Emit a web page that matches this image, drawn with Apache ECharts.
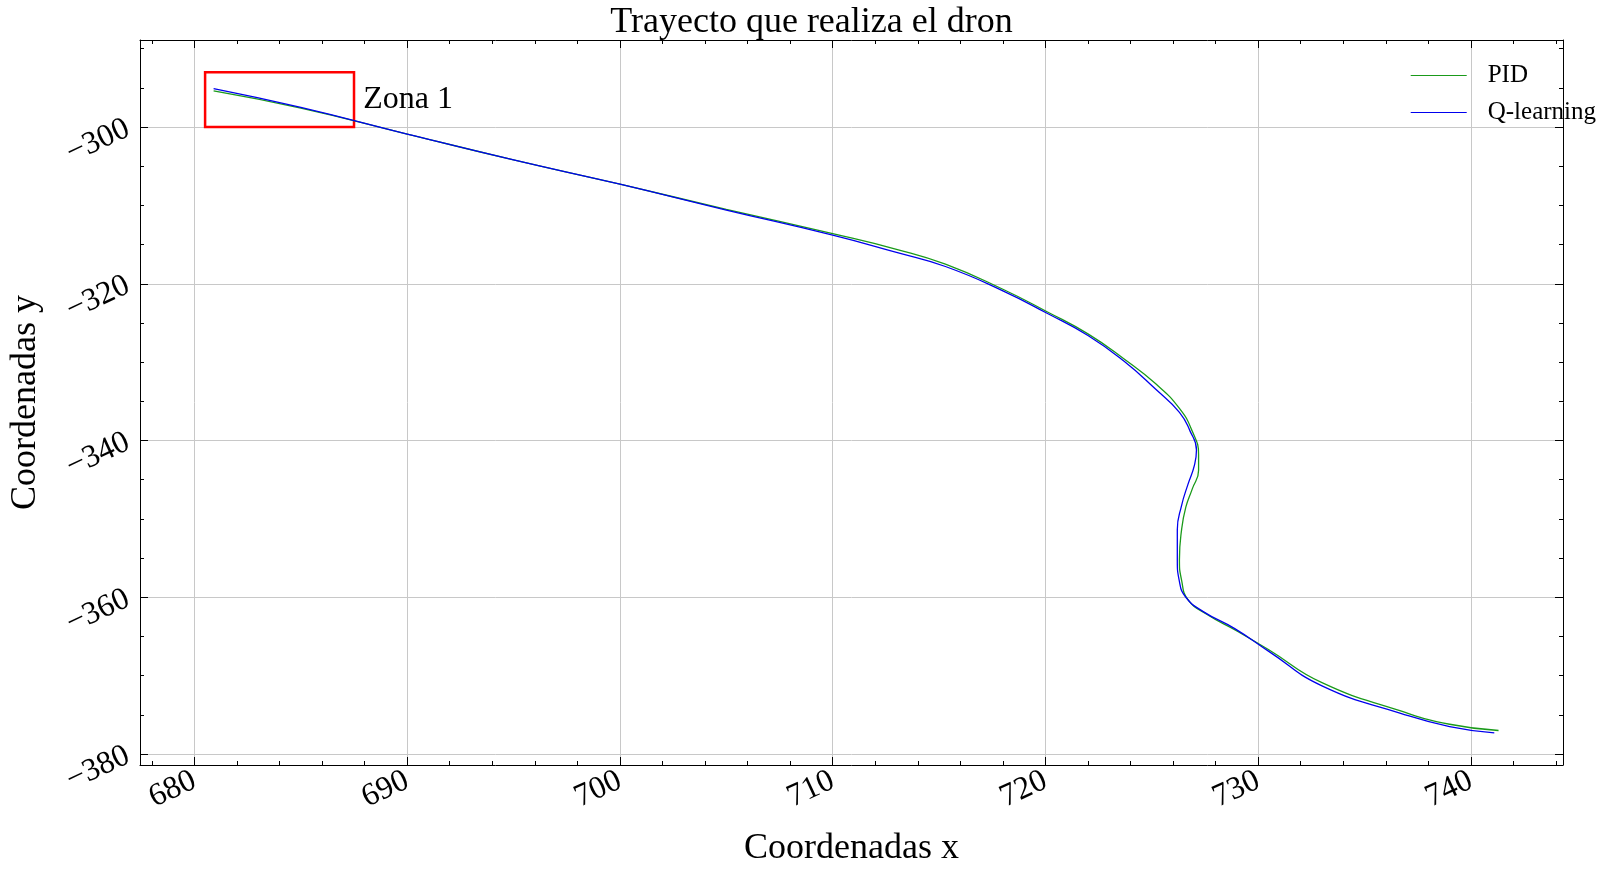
<!DOCTYPE html>
<html>
<head>
<meta charset="utf-8">
<script src="https://cdn.jsdelivr.net/npm/echarts@6/dist/echarts.min.js"></script>
<style>html,body{margin:0;padding:0;background:#fff}#main{width:1623px;height:890px}</style>
</head>
<body>
<div id="main"></div>
<script>
// trajectories: [x, y]
var pidPath = [
  [680.9, -295.4], [685, -297.6], [690, -300.9], [695, -304.2], [700, -307.3],
  [705, -310.5], [710, -313.6], [713, -315.6], [715.3, -317.5], [718, -320.7],
  [720.1, -323.6], [722, -326.4], [723.7, -329.6], [725.2, -332.8], [726.3, -335.9],
  [726.9, -338.8], [727.2, -341.8], [727.2, -343.8], [726.9, -346.2], [726.6, -348.5],
  [726.4, -351.4], [726.3, -355.2], [726.4, -357.8], [726.7, -360.3], [727.6, -362.2],
  [729.0, -364.3], [730.5, -366.7], [733.0, -370.9], [736.7, -374.5], [739, -376.2], [741.3, -377.0]
];
var qPath = [
  [680.9, -295.1], [685, -297.5], [690, -300.9], [695, -304.2], [700, -307.3],
  [705, -310.6], [710, -313.8], [713, -316.0], [715.3, -317.8], [718, -320.9],
  [720.1, -323.8], [722, -326.6], [723.7, -329.9], [725.2, -333.5], [726.3, -336.4],
  [726.8, -338.8], [727.1, -341.2], [727.0, -343.2], [726.7, -345.6], [726.4, -348.3],
  [726.2, -351.4], [726.2, -355.2], [726.3, -358.0], [726.6, -360.0], [727.4, -361.8],
  [728.9, -364.0], [730.5, -366.9], [733.0, -371.3], [736.7, -374.8], [739, -376.5], [741.1, -377.3]
];
var zone1 = [[680.5, -293.0], [687.5, -300.0]];
var xRange = [677.44, 744.33];
var yRange = [-381.4, -288.9];

var font = 'Liberation Serif';
function fmt(step) {
  return function (v) {
    var r = Math.round(v);
    if (Math.abs(v - r) > 1e-6 || r % step !== 0) return '';
    return r < 0 ? '\u2212' + Math.abs(r) : String(r);
  };
}
var axisCommon = {
  type: 'value',
  axisLine: { onZero: false, lineStyle: { color: '#000', width: 1 } },
  axisTick: { inside: true, length: 8, lineStyle: { color: '#000' } },
  splitLine: { show: true, lineStyle: { color: '#c8c8c8', width: 1 } }
};
function ax(extra) { return Object.assign({}, axisCommon, extra); }

var chart = echarts.init(document.getElementById('main'));
chart.setOption({
  animation: false,
  title: {
    text: 'Trayecto que realiza el dron', left: 'center', top: 0,
    textStyle: { fontFamily: font, fontSize: 36, fontWeight: 'normal', color: '#000' }
  },
  legend: {
    orient: 'vertical', right: 22, top: 58, itemGap: 12, itemWidth: 56, itemHeight: 12,
    icon: 'path://M0,0 L10,0 L10,0.15 L0,0.15 Z',
    textStyle: { fontFamily: font, fontSize: 25, color: '#000', padding: [0, 0, 0, 16] },
    data: ['PID', 'Q-learning']
  },
  grid: { left: 126, right: 60, top: 40, bottom: 125 },
  xAxis: [
    ax({ min: xRange[0], max: xRange[1], splitNumber: 7, minorTick: { show: true, splitNumber: 5, length: 4, lineStyle: { color: '#000' } },
      name: 'Coordenadas x', nameLocation: 'middle', nameGap: 66,
      nameTextStyle: { fontFamily: font, fontSize: 36, color: '#000' },
      axisLabel: { formatter: fmt(10), rotate: 25, margin: 14, fontFamily: font, fontSize: 32, color: '#000' } }),
    ax({ position: 'top', min: xRange[0], max: xRange[1], splitNumber: 7, minorTick: { show: true, splitNumber: 5, length: 4, lineStyle: { color: '#000' } },
      axisLabel: { show: false }, splitLine: { show: false } })
  ],
  yAxis: [
    ax({ min: yRange[0], max: yRange[1], splitNumber: 5, minorTick: { show: true, splitNumber: 4, length: 4, lineStyle: { color: '#000' } },
      name: 'Coordenadas y', nameLocation: 'middle', nameGap: 96,
      nameTextStyle: { fontFamily: font, fontSize: 36, color: '#000' },
      axisLabel: { formatter: fmt(20), rotate: 25, margin: 12, fontFamily: font, fontSize: 32, color: '#000' } }),
    ax({ position: 'right', min: yRange[0], max: yRange[1], splitNumber: 5, minorTick: { show: true, splitNumber: 4, length: 4, lineStyle: { color: '#000' } },
      axisLabel: { show: false }, splitLine: { show: false } })
  ],
  series: [
    {
      name: 'PID', type: 'line', data: pidPath, smooth: 0.5, showSymbol: false,
      lineStyle: { color: '#1a9a1a', width: 1.3 }, itemStyle: { color: '#1a9a1a' },
      markArea: {
        silent: true,
        itemStyle: { color: 'rgba(0,0,0,0)', borderColor: '#f00', borderWidth: 2.5 },
        label: { show: true, position: 'right', distance: 8, formatter: 'Zona 1',
          fontFamily: font, fontSize: 32, color: '#000' },
        data: [[{ coord: zone1[0] }, { coord: zone1[1] }]]
      }
    },
    {
      name: 'Q-learning', type: 'line', data: qPath, smooth: 0.5, showSymbol: false,
      lineStyle: { color: '#0000ee', width: 1.3 }, itemStyle: { color: '#0000ee' }
    }
  ]
});
</script>
</body>
</html>
